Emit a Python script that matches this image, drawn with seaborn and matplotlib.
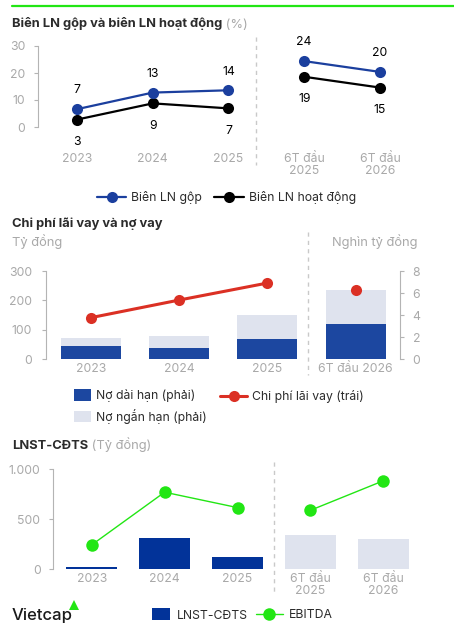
import numpy as np
import pandas as pd
import matplotlib
matplotlib.use("Agg")
import matplotlib.pyplot as plt
from matplotlib.lines import Line2D
from matplotlib.patches import Patch
from matplotlib.ticker import FuncFormatter
import seaborn as sns

# ---------------- data ----------------
margin_cats = ["2023", "2024", "2025", "6T đầu\n2025", "6T đầu\n2026"]
gross_margin = [6.6, 12.75, 13.6, 24.4, 20.4]
op_margin = [2.75, 8.75, 6.9, 18.6, 14.6]
margin_segment = ["năm", "năm", "năm", "6T", "6T"]

debt_cats = ["2023", "2024", "2025", "6T đầu 2026"]
long_debt = [1.17, 0.96, 1.80, 3.20]
short_debt = [0.72, 1.17, 2.20, 3.07]
interest = [141, 201, 259, 236]
interest_segment = ["năm", "năm", "năm", "6T"]

profit_cats = ["2023", "2024", "2025", "6T đầu\n2025", "6T đầu\n2026"]
npat = [25, 312, 124, 345, 305]
ebitda = [241, 768, 614, 587, 882]
profit_segment = ["năm", "năm", "năm", "6T", "6T"]

# ---------------- style ----------------
sns.set_theme(style="white")
plt.rcParams["font.family"] = ["Inter", "DejaVu Sans"]
plt.rcParams["font.size"] = 9

BLUE = "#1b3f9e"
BAR_BLUE = "#1c47a0"
BAR_BLUE3 = "#023399"
LIGHT = "#dfe3ee"
RED = "#db3024"
GREEN = "#22e614"
TICK_GRAY = "#b4b4b4"
LABEL_GRAY = "#a9a9a9"
DARK = "#2b2b2b"
DIV = "#c9c9c9"
FS = 8.8

W, H = 454, 632
fig = plt.figure(figsize=(W / 100, H / 100), dpi=100)
fig.patch.set_facecolor("white")


def rect(l, t, r, b):
    return [l / W, 1 - b / H, (r - l) / W, (b - t) / H]


def fx(px):
    return px / W


def fy(py):
    return 1 - py / H


def set_xlim_px(ax, left_px, right_px, first_px, last_px, n):
    scale = (last_px - first_px) / (n - 1)
    xmin = -(first_px - left_px) / scale
    xmax = xmin + (right_px - left_px) / scale
    ax.set_xlim(xmin, xmax)


def style_axis(ax, xpad, ypad):
    for s in ["top", "right", "bottom"]:
        ax.spines[s].set_visible(False)
    ax.spines["left"].set_color(TICK_GRAY)
    ax.spines["left"].set_linewidth(0.8)
    ax.tick_params(axis="y", length=3, width=0.8, color=TICK_GRAY,
                   labelcolor=LABEL_GRAY, labelsize=FS, pad=ypad, left=True)
    ax.tick_params(axis="x", length=0, labelcolor=LABEL_GRAY, labelsize=FS,
                   pad=xpad)
    ax.grid(False)
    ax.set_xlabel("")
    ax.set_ylabel("")


def title(x_px, y_px, bold, rest=None):
    t = fig.text(fx(x_px), fy(y_px), bold, fontsize=9.3, fontweight="bold",
                 color=DARK, ha="left", va="center")
    if rest:
        fig.axes[0].annotate(rest, xy=(1, 0), xycoords=t, ha="left",
                             va="bottom", fontsize=9.3, color=LABEL_GRAY,
                             annotation_clip=False)
    return t


def divider(x_px, y0_px, y1_px):
    fig.add_artist(Line2D([fx(x_px)] * 2, [fy(y0_px), fy(y1_px)],
                          color=DIV, lw=1, ls=(0, (3, 3))))


# top green rule
fig.add_artist(Line2D([fx(12), 1], [fy(6), fy(6)], color=GREEN, lw=1.6))

# ================= Panel 1: margins =================
ax1 = fig.add_axes(rect(38, 46, 440, 127))
df_m = pd.DataFrame({"pos": np.arange(len(margin_cats)), "gross": gross_margin,
                     "op": op_margin, "seg": margin_segment})
sns.lineplot(data=df_m, x="pos", y="op", units="seg", estimator=None,
             color="black", marker="o", markersize=8, markeredgewidth=0,
             lw=1.6, ax=ax1, legend=False, sort=False)
sns.lineplot(data=df_m, x="pos", y="gross", units="seg", estimator=None,
             color=BLUE, marker="o", markersize=8, markeredgewidth=0,
             lw=1.6, ax=ax1, legend=False, sort=False)
for ln in ax1.lines:
    ln.set_clip_on(False)
ax1.set_ylim(0, 30)
ax1.set_yticks([0, 10, 20, 30])
ax1.set_xticks(df_m["pos"], margin_cats, linespacing=1.0)
set_xlim_px(ax1, 38, 440, 77, 380, len(margin_cats))
style_axis(ax1, xpad=19, ypad=6)
for x, g, o in zip(df_m["pos"], gross_margin, op_margin):
    ax1.annotate(f"{g:.0f}", (x, g), xytext=(0, 13.5), textcoords="offset points",
                 ha="center", va="center", fontsize=FS, color="black")
    ax1.annotate(f"{o:.0f}", (x, o), xytext=(0, -16), textcoords="offset points",
                 ha="center", va="center", fontsize=FS, color="black")
title(12, 24, "Biên LN gộp và biên LN hoạt động", " (%)")
divider(256, 37, 165)
h1 = [Line2D([], [], color=BLUE, marker="o", markersize=8, markeredgewidth=0, lw=1.6),
      Line2D([], [], color="black", marker="o", markersize=8, markeredgewidth=0, lw=1.6)]
fig.legend(h1, ["Biên LN gộp", "Biên LN hoạt động"], loc="center left",
           bbox_to_anchor=(fx(97), fy(198)), ncol=2, frameon=False,
           handlelength=2.4, handletextpad=0.4, columnspacing=1.0,
           borderpad=0, borderaxespad=0, fontsize=FS, labelcolor=DARK)

# ================= Panel 2: interest & debt =================
ax2 = fig.add_axes(rect(46, 271, 400, 359))
ax2r = ax2.twinx()
total_debt = [a + b for a, b in zip(long_debt, short_debt)]
sns.barplot(x=debt_cats, y=total_debt, color=LIGHT, saturation=1, width=0.68,
            linewidth=0, errorbar=None, ax=ax2r)
sns.barplot(x=debt_cats, y=long_debt, color=BAR_BLUE, saturation=1, width=0.68,
            linewidth=0, errorbar=None, ax=ax2r)
df_i = pd.DataFrame({"pos": np.arange(len(debt_cats)), "val": interest,
                     "seg": interest_segment})
sns.lineplot(data=df_i, x="pos", y="val", units="seg", estimator=None,
             color=RED, marker="o", markersize=8, markeredgewidth=0, lw=2.2,
             ax=ax2, legend=False, sort=False)
for ln in ax2.lines:
    ln.set_clip_on(False)
ax2.set_zorder(ax2r.get_zorder() + 1)
ax2.patch.set_visible(False)
ax2.set_ylim(0, 300)
ax2.set_yticks([0, 100, 200, 300])
ax2r.set_ylim(0, 8)
ax2r.set_yticks([0, 2, 4, 6, 8])
style_axis(ax2, xpad=3, ypad=7)
ax2.set_xticks(np.arange(len(debt_cats)), debt_cats)
set_xlim_px(ax2, 46, 400, 91, 355.7, len(debt_cats))
for s in ["top", "left", "bottom"]:
    ax2r.spines[s].set_visible(False)
ax2r.spines["right"].set_color(TICK_GRAY)
ax2r.spines["right"].set_linewidth(0.8)
ax2r.tick_params(axis="y", length=3, width=0.8, color=TICK_GRAY,
                 labelcolor=LABEL_GRAY, labelsize=FS, pad=6, right=True)
ax2r.grid(False)
ax2r.set_ylabel("")
title(12, 224, "Chi phí lãi vay và nợ vay")
fig.text(fx(12), fy(242), "Tỷ đồng", fontsize=9.3, color=LABEL_GRAY,
         ha="left", va="center")
fig.text(fx(418), fy(242), "Nghìn tỷ đồng", fontsize=9.3, color=LABEL_GRAY,
         ha="right", va="center")
divider(308, 232, 375)
fig.legend([Patch(color=BAR_BLUE, lw=0), Patch(color=LIGHT, lw=0)],
           ["Nợ dài hạn (phải)", "Nợ ngắn hạn (phải)"], loc="center left",
           bbox_to_anchor=(fx(74), fy(406.7)), ncol=1, frameon=False,
           handlelength=1.36, handleheight=1.05, handletextpad=0.48,
           labelspacing=0.55, borderpad=0, borderaxespad=0, fontsize=FS,
           labelcolor=DARK)
fig.legend([Line2D([], [], color=RED, marker="o", markersize=8,
                   markeredgewidth=0, lw=2.2)],
           ["Chi phí lãi vay (trái)"], loc="center left",
           bbox_to_anchor=(fx(220), fy(396.7)), frameon=False,
           handlelength=2.24, handletextpad=0.4, borderpad=0,
           borderaxespad=0, fontsize=FS, labelcolor=DARK)

# ================= Panel 3: profit =================
ax3 = fig.add_axes(rect(53, 469, 440, 569))
bar_palette = [BAR_BLUE3, BAR_BLUE3, BAR_BLUE3, LIGHT, LIGHT]
sns.barplot(x=profit_cats, y=npat, hue=profit_cats, palette=bar_palette,
            legend=False, saturation=1, width=0.7, linewidth=0, errorbar=None,
            ax=ax3)
df_p = pd.DataFrame({"pos": np.arange(len(profit_cats)), "val": ebitda,
                     "seg": profit_segment})
sns.lineplot(data=df_p, x="pos", y="val", units="seg", estimator=None,
             color=GREEN, marker="o", markersize=9, markeredgewidth=0, lw=1.0,
             ax=ax3, legend=False, sort=False)
for ln in ax3.lines:
    ln.set_clip_on(False)
ax3.set_ylim(0, 1000)
ax3.set_yticks([0, 500, 1000])
ax3.yaxis.set_major_formatter(FuncFormatter(lambda v, p: f"{v:,.0f}".replace(",", ".")))
style_axis(ax3, xpad=3, ypad=6)
ax3.set_xticks(np.arange(len(profit_cats)), profit_cats, linespacing=1.0)
set_xlim_px(ax3, 53, 440, 91.7, 383.3, len(profit_cats))
title(12, 446, "LNST-CĐTS", " (Tỷ đồng)")
divider(274, 462, 595)
fig.legend([Patch(color=BAR_BLUE3, lw=0)], ["LNST-CĐTS"], loc="center left",
           bbox_to_anchor=(fx(152), fy(615)), frameon=False,
           handlelength=1.44, handleheight=1.1, handletextpad=0.56,
           borderpad=0, borderaxespad=0, fontsize=FS, labelcolor=DARK)
fig.legend([Line2D([], [], color=GREEN, marker="o", markersize=9,
                   markeredgewidth=0, lw=1.0)], ["EBITDA"], loc="center left",
           bbox_to_anchor=(fx(256), fy(615)), frameon=False,
           handlelength=2.2, handletextpad=0.5, borderpad=0,
           borderaxespad=0, fontsize=FS, labelcolor=DARK)

# logo
fig.text(fx(12), fy(620), "Vietcap", fontsize=12, fontweight="medium",
         color="#1a1a1a", ha="left", va="baseline")
fig.add_artist(Line2D([fx(74)], [fy(605)], marker="^", markersize=7,
                      color=GREEN, markeredgewidth=0))

fig.savefig("out.png", dpi=100, facecolor="white")
